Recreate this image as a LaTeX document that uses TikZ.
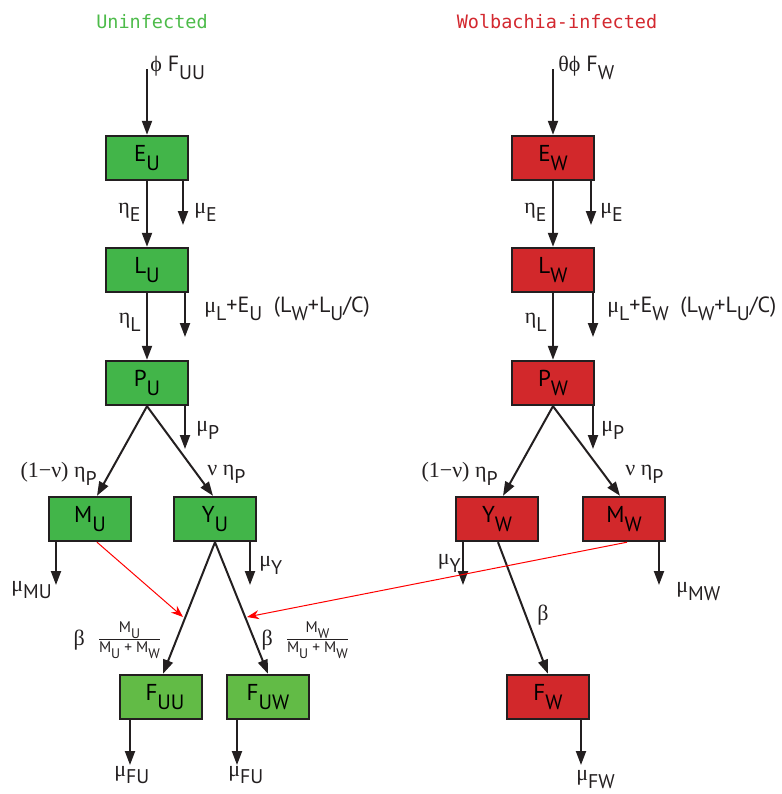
\documentclass[tikz,border=0pt]{standalone}
\usepackage{graphicx}
\usepackage{amsmath}
\usepackage{fontspec}
\setmainfont{PT Sans}
\newfontfamily\titlefont{DejaVu Sans Mono}
\newfontfamily\gkfont{Liberation Serif}
\usetikzlibrary{arrows.meta}

\newcommand{\gk}[1]{{\gkfont #1}}
\newcommand{\dn}[1]{\raisebox{-0.36em}{\scalebox{0.9}{#1}}}

\definecolor{boxgreen}{RGB}{66,181,73}
\definecolor{boxgreenF}{RGB}{98,187,70}
\definecolor{boxred}{RGB}{210,40,43}
\definecolor{titlegreen}{RGB}{77,187,74}
\definecolor{titlered}{RGB}{211,40,47}
\definecolor{ink}{RGB}{35,31,32}

\tikzset{
  comp/.style={draw=ink,line width=1.2pt,minimum width=41pt,minimum height=22pt,
    inner sep=0pt,font=\fontsize{11.5}{12}\selectfont},
  ucomp/.style={comp,fill=boxgreen},
  wcomp/.style={comp,fill=boxred},
  flow/.style={ink,line width=1pt,-{Triangle[length=7pt,width=5pt]}},
  mate/.style={red,line width=0.5pt,-{Stealth[length=6pt,width=4.5pt]}},
  rate/.style={ink,inner sep=0pt,font=\fontsize{11}{12}\selectfont},
  title/.style={inner sep=0pt,font=\titlefont\fontsize{9.25}{10}\selectfont},
}

\begin{document}
\begin{tikzpicture}[x=0.5pt,y=-0.5pt]
\useasboundingbox (0,0) rectangle (782,794);

% titles
\node[title,text=titlegreen] (tU) at (152,22) {Uninfected};
\node[title,text=titlered] (tW) at (557,22) {Wolbachia-infected};

% uninfected compartments
\node[ucomp] (EU) at (147,158) {E\dn{U}};
\node[ucomp] (LU) at (147,270) {L\dn{U}};
\node[ucomp] (PU) at (147,383) {P\dn{U}};
\node[ucomp] (MU) at (90,519) {M\dn{U}};
\node[ucomp] (YU) at (215,519) {Y\dn{U}};
\node[ucomp,fill=boxgreenF] (FUU) at (161,697) {\hspace*{4pt}F\dn{UU}};
\node[ucomp,fill=boxgreenF] (FUW) at (268,697) {F\dn{UW}};

% infected compartments
\node[wcomp] (EW) at (553,158) {E\dn{W}};
\node[wcomp] (LW) at (553,270) {L\dn{W}};
\node[wcomp] (PW) at (553,383) {P\dn{W}};
\node[wcomp] (YW) at (497,519) {Y\dn{W}};
\node[wcomp] (MW) at (624,519) {M\dn{W}};
\node[wcomp] (FW) at (548,697) {F\dn{W}};

% free ends
\coordinate (inU) at (147,69);
\coordinate (inW) at (553,69);
\coordinate (dEU) at (183,225);
\coordinate (dLU) at (185,337);
\coordinate (dPU) at (185,449);
\coordinate (dMU) at (56,585);
\coordinate (dYU) at (250,585);
\coordinate (dFUU) at (130,765);
\coordinate (dFUW) at (237,765);
\coordinate (dEW) at (591,225);
\coordinate (dLW) at (593,337);
\coordinate (dPW) at (593,449);
\coordinate (dYW) at (463,585);
\coordinate (dMW) at (659,585);
\coordinate (dFW) at (581,765);
\coordinate (hitU) at (183,617);
\coordinate (hitW) at (247,617);

% development
\draw[flow] (inU) -- (EU);
\draw[flow] (EU) -- (LU);
\draw[flow] (LU) -- (PU);
\draw[flow] (PU.south) -- ([xshift=3.5pt]MU.north);
\draw[flow] (PU.south) -- ([xshift=-1pt]YU.north);
\draw[flow] (YU.south) -- ([xshift=1pt]FUU.north);
\draw[flow] (YU.south) -- (FUW.north);

\draw[flow] (inW) -- (EW);
\draw[flow] (EW) -- (LW);
\draw[flow] (LW) -- (PW);
\draw[flow] (PW.south) -- ([xshift=3pt]YW.north);
\draw[flow] (PW.south) -- ([xshift=-2pt]MW.north);
\draw[flow] ([xshift=0.5pt]YW.south) -- (FW.north);

% deaths
\foreach \c in {EU,LU,PU,MU,YU,FUU,FUW,EW,LW,PW,YW,MW,FW}
  \draw[flow] (\c.south -| d\c) -- (d\c);

% mating
\draw[mate] ([xshift=3.5pt]MU.south) -- (hitU);
\draw[mate] ([xshift=1.5pt]MW.south) -- (hitW);

% rates, uninfected
\node[rate,anchor=west] (fU) at (150,68) {\gk{ϕ} F\dn{UU}};
\node[rate,anchor=east] (etaEU) at (141,212) {\gk{η}\dn{E}};
\node[rate,anchor=west] (muEU) at (194,212) {\gk{μ}\dn{E}};
\node[rate,anchor=east] (etaLU) at (141,322) {\gk{η}\dn{L}};
\node[rate,anchor=west] (muLU) at (204,309) {\gk{μ}\dn{L}+E\dn{U}\ \ (L\dn{W}+L\dn{U}/C)};
\node[rate,anchor=west] (muPU) at (196,430) {\gk{μ}\dn{P}};
\node[rate,anchor=east] (etaMU) at (97,474) {\gk{(1−ν) η}\dn{P}};
\node[rate,anchor=west] (etaYU) at (207,474) {\gk{ν η}\dn{P}};
\node[rate,anchor=west] (muMU) at (11,590) {\gk{μ}\dn{MU}};
\node[rate,anchor=west] (muYU) at (259,565) {\gk{μ}\dn{Y}};
\node[rate] (matU) at (118,640) {\gk{β}\ \ $\frac{\text{M\dn{U}}}{\text{M\dn{U} + M\dn{W}}}$};
\node[rate] (matW) at (306,640) {\gk{β}\ \ $\frac{\text{M\dn{W}}}{\text{M\dn{U} + M\dn{W}}}$};
\node[rate,anchor=west] (muFUU) at (114,775) {\gk{μ}\dn{FU}};
\node[rate,anchor=west] (muFUW) at (228,775) {\gk{μ}\dn{FU}};

% rates, infected
\node[rate,anchor=west] (fW) at (558,68) {\gk{θϕ} F\dn{W}};
\node[rate,anchor=east] (etaEW) at (547,212) {\gk{η}\dn{E}};
\node[rate,anchor=west] (muEW) at (600,212) {\gk{μ}\dn{E}};
\node[rate,anchor=east] (etaLW) at (547,322) {\gk{η}\dn{L}};
\node[rate,anchor=west] (muLW) at (607,309) {\gk{μ}\dn{L}+E\dn{W}\ \ (L\dn{W}+L\dn{U}/C)};
\node[rate,anchor=west] (muPW) at (601,430) {\gk{μ}\dn{P}};
\node[rate,anchor=east] (etaYW) at (498,474) {\gk{(1−ν) η}\dn{P}};
\node[rate,anchor=west] (etaMW) at (625,474) {\gk{ν η}\dn{P}};
\node[rate,anchor=east] (muYW) at (461,563) {\gk{μ}\dn{Y}};
\node[rate] (betaW) at (543,615) {\gk{β}};
\node[rate,anchor=west] (muMW) at (676,592) {\gk{μ}\dn{MW}};
\node[rate,anchor=west] (muFW) at (576,780) {\gk{μ}\dn{FW}};

\end{tikzpicture}
\end{document}
